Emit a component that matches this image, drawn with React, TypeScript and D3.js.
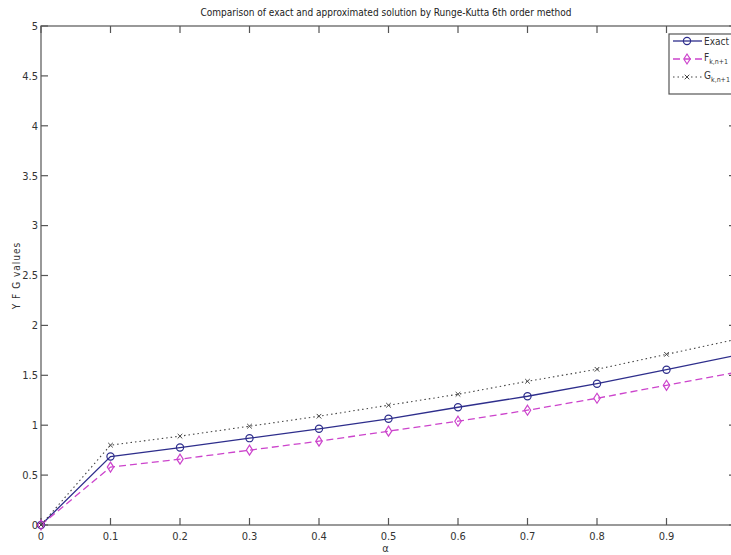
import { useEffect, useRef } from "react";
import * as d3 from "d3";

const W = 731;
const H = 555;

const ALPHA = [0, 0.1, 0.2, 0.3, 0.4, 0.5, 0.6, 0.7, 0.8, 0.9, 1.0];
const EXACT = [0, 0.686, 0.776, 0.87, 0.964, 1.064, 1.18, 1.29, 1.416, 1.556, 1.70];
const F_VALS = [0, 0.58, 0.66, 0.75, 0.84, 0.94, 1.04, 1.15, 1.27, 1.40, 1.53];
const G_VALS = [0, 0.80, 0.89, 0.99, 1.09, 1.20, 1.31, 1.44, 1.56, 1.71, 1.86];
const X_TICKS = [0, 0.1, 0.2, 0.3, 0.4, 0.5, 0.6, 0.7, 0.8, 0.9];
const Y_TICKS = [0, 0.5, 1, 1.5, 2, 2.5, 3, 3.5, 4, 4.5, 5];

const FONT = "'Liberation Sans Narrow', 'DejaVu Sans Condensed', 'Liberation Sans', sans-serif";
const AXIS_COL = "#555";

export default function App() {
  const svgRef = useRef<SVGSVGElement | null>(null);

  useEffect(() => {
    if (!svgRef.current) return;
    const svg = d3.select(svgRef.current);
    svg.selectAll("*").remove();

    const x = d3.scaleLinear().domain([0, 1]).range([41, 736]);
    const y = d3.scaleLinear().domain([0, 5]).range([525, 26]);

    svg.append("rect").attr("width", W).attr("height", H).attr("fill", "#fff");

    // ── box and ticks ───────────────────────────────────────────────────
    const TL = 7;
    const ax = svg.append("g").attr("stroke", AXIS_COL).attr("stroke-width", 1.2);
    ax.append("rect")
      .attr("x", x(0)).attr("y", y(5))
      .attr("width", x(1) - x(0)).attr("height", y(0) - y(5))
      .attr("fill", "none");
    for (const t of X_TICKS) {
      ax.append("line").attr("x1", x(t)).attr("x2", x(t)).attr("y1", y(0)).attr("y2", y(0) - TL);
      ax.append("line").attr("x1", x(t)).attr("x2", x(t)).attr("y1", y(5)).attr("y2", y(5) + TL);
    }
    for (const t of Y_TICKS) {
      ax.append("line").attr("x1", x(0)).attr("x2", x(0) + TL).attr("y1", y(t)).attr("y2", y(t));
      ax.append("line").attr("x1", x(1)).attr("x2", x(1) - TL).attr("y1", y(t)).attr("y2", y(t));
    }

    const txt = svg.append("g").attr("font-family", FONT).attr("fill", "#333").attr("font-size", 11);
    for (const t of X_TICKS) {
      txt.append("text").attr("x", x(t)).attr("y", y(0) + 15)
        .attr("text-anchor", "middle").text(String(t));
    }
    for (const t of Y_TICKS) {
      txt.append("text").attr("x", x(0) - 3).attr("y", y(t)).attr("dy", "0.35em")
        .attr("text-anchor", "end").text(String(t));
    }

    txt.append("text").attr("x", (x(0) + x(1)) / 2 - 3).attr("y", 552)
      .attr("text-anchor", "middle").text("α");
    txt.append("text")
      .attr("transform", `translate(20,${(y(0) + y(5)) / 2}) rotate(-90)`)
      .attr("text-anchor", "middle").attr("font-size", 10).attr("letter-spacing", 1)
      .text("Y F G values");
    txt.append("text").attr("x", 386).attr("y", 16)
      .attr("text-anchor", "middle").attr("font-size", 10).attr("fill", "#222")
      .text("Comparison of exact and approximated solution by Runge-Kutta 6th order method");

    // ── series ──────────────────────────────────────────────────────────
    const series = [
      { name: "Exact", vals: EXACT, color: "#2e2e8c", dash: null, marker: "circle", width: 1.3 },
      { name: "F", vals: F_VALS, color: "#cc44cc", dash: "7,4", marker: "diamond", width: 1.3 },
      { name: "G", vals: G_VALS, color: "#444", dash: "1.5,3", marker: "x", width: 1.1 },
    ];

    const line = d3.line<number>().x((_, i) => x(ALPHA[i])).y(d => y(d));

    const drawMarker = (g: any, kind: string, cx: number, cy: number, color: string) => {
      if (kind === "circle") {
        g.append("circle").attr("cx", cx).attr("cy", cy).attr("r", 3.6)
          .attr("fill", "none").attr("stroke", color).attr("stroke-width", 1.2);
      } else if (kind === "diamond") {
        g.append("path")
          .attr("d", `M${cx},${cy - 5}L${cx + 3.2},${cy}L${cx},${cy + 5}L${cx - 3.2},${cy}Z`)
          .attr("fill", "none").attr("stroke", color).attr("stroke-width", 1.2);
      } else {
        const s = 2.3;
        g.append("path")
          .attr("d", `M${cx - s},${cy - s}L${cx + s},${cy + s}M${cx - s},${cy + s}L${cx + s},${cy - s}`)
          .attr("stroke", color).attr("stroke-width", 1);
      }
    };

    const plot = svg.append("g");
    for (const s of series) {
      plot.append("path").datum(s.vals)
        .attr("d", line)
        .attr("fill", "none")
        .attr("stroke", s.color)
        .attr("stroke-width", s.width)
        .attr("stroke-dasharray", s.dash);
      s.vals.forEach((v, i) => drawMarker(plot, s.marker, x(ALPHA[i]), y(v), s.color));
    }

    // ── legend ──────────────────────────────────────────────────────────
    const lg = svg.append("g");
    lg.append("rect").attr("x", 669).attr("y", 34).attr("width", 80).attr("height", 60)
      .attr("fill", "#fff").attr("stroke", AXIS_COL).attr("stroke-width", 1.2);
    const rowY = [41, 59, 77];
    series.forEach((s, i) => {
      const ry = rowY[i];
      lg.append("line").attr("x1", 673).attr("x2", 702).attr("y1", ry).attr("y2", ry)
        .attr("stroke", s.color).attr("stroke-width", s.width).attr("stroke-dasharray", s.dash);
      drawMarker(lg, s.marker, 687, ry, s.color);
    });
    const lt = lg.append("g").attr("font-family", FONT).attr("fill", "#333").attr("font-size", 10);
    lt.append("text").attr("x", 704).attr("y", rowY[0]).attr("dy", "0.35em")
      .attr("textLength", 25).attr("lengthAdjust", "spacingAndGlyphs").text("Exact");
    const sub = (label: string, ry: number) => {
      const t = lt.append("text").attr("x", 704).attr("y", ry).attr("dy", "0.2em");
      t.append("tspan").text(label);
      t.append("tspan").attr("font-size", 7).attr("dy", "0.45em").text("k,n+1");
    };
    sub("F", rowY[1]);
    sub("G", rowY[2]);
  }, []);

  return (
    <div style={{ position: "fixed", left: 0, top: 0, width: W, height: H, overflow: "hidden", background: "#fff" }}>
      <svg ref={svgRef} width={W} height={H} style={{ display: "block" }} />
    </div>
  );
}
